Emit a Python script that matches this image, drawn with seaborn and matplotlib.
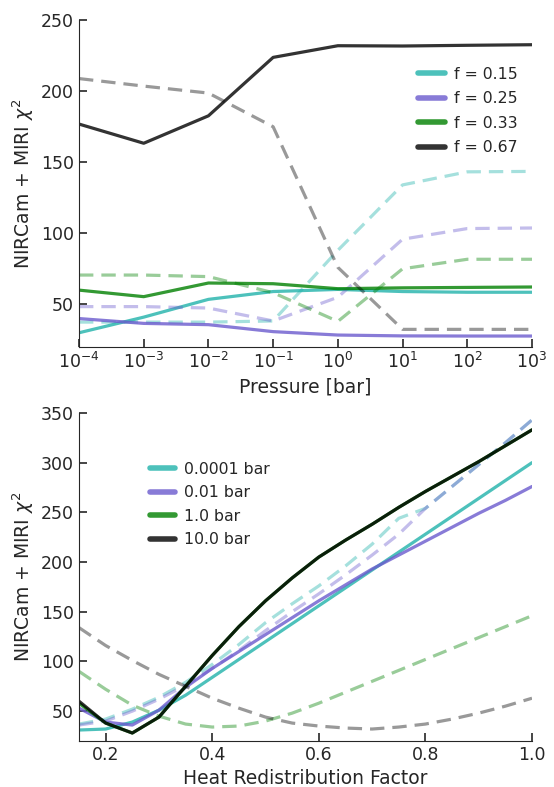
import numpy as np
import pandas as pd
import matplotlib
matplotlib.use("Agg")
import matplotlib.pyplot as plt
import seaborn as sns

# ---- top panel: chi2 vs pressure, one pair of lines per f ----
pressure = [1e-4, 1e-3, 1e-2, 1e-1, 1e0, 1e1, 1e2, 1e3]
f_labels = ["f = 0.15", "f = 0.25", "f = 0.33", "f = 0.67"]
top_solid = [
    [30, 41, 53.5, 59, 60.5, 59, 58.5, 58.5],
    [40, 36.6, 35.7, 30.8, 28.4, 27.8, 27.7, 27.7],
    [60, 55.4, 65, 64.5, 61, 61.6, 61.9, 62.2],
    [176.8, 163.3, 182.6, 223.7, 231.9, 231.7, 232.2, 232.6],
]
top_dashed = [
    [37.5, 37.5, 37.5, 38.3, 88, 134, 143.2, 143.5],
    [48.4, 48.4, 47.4, 38.3, 55, 95.8, 103.3, 103.7],
    [70.6, 70.6, 69.5, 58.2, 38, 75, 81.7, 81.7],
    [208.8, 203.5, 198.6, 174.9, 76, 32.4, 32.4, 32.4],
]

# ---- bottom panel: chi2 vs heat redistribution, one pair per pressure ----
heat = [0.15, 0.2, 0.25, 0.3, 0.35, 0.4, 0.45, 0.5, 0.55, 0.6,
        0.65, 0.7, 0.75, 0.8, 0.85, 0.9, 0.95, 1.0]
p_labels = ["0.0001 bar", "0.01 bar", "1.0 bar", "10.0 bar"]
bot_solid = [
    [31, 32, 39, 51, 66, 84, 102, 120, 138, 156, 174, 192, 210, 228, 246, 264, 282, 300],
    [53, 39, 36, 51, 74, 93, 110, 127, 144, 161, 177, 193, 207, 221, 235, 249, 262, 276],
    [58, 38, 28, 44, 75, 106, 135, 161, 184, 205, 222, 238, 255, 271, 286, 301, 317, 333],
    [60, 38, 28, 44, 75, 106, 135, 161, 184, 205, 222, 238, 255, 271, 286, 301, 317, 333],
]
bot_dashed = [
    [37, 42, 52, 64, 79, 97, 117, 139, 158, 176, 196, 218, 244, 254, 276, 298, 320, 343],
    [36, 40, 50, 62, 76, 93, 111, 131, 150, 168, 187, 207, 228, 254, 276, 298, 320, 343],
    [90, 72, 56, 45, 37, 34, 35, 40, 48, 58, 69, 80, 91, 102, 113, 124, 135, 146],
    [134, 116, 101, 87, 75, 63, 53, 44, 38, 35, 33, 32, 34, 37, 42, 48, 55, 63],
]

colors = ["lightseagreen", "slateblue", "green", "k"]

sns.set_style("ticks")
plt.rcParams["font.family"] = ["DejaVu Sans"]

fig = plt.figure(figsize=(5.54, 7.87), dpi=100)
ax1 = fig.add_axes([0.1426, 0.5591, 0.8177, 0.4155])
ax2 = fig.add_axes([0.1426, 0.0585, 0.8177, 0.4168])


def draw(ax, x, solids, dashes, labels):
    for sol, das, lab, c in zip(solids, dashes, labels, colors):
        sns.lineplot(x=x, y=sol, ax=ax, color=c, alpha=0.8, lw=2.3, label=lab)
        sns.lineplot(x=x, y=das, ax=ax, color=c, alpha=0.4, lw=2.3,
                     linestyle=(0, (4.5, 2.5)))


draw(ax1, pressure, top_solid, top_dashed, f_labels)
draw(ax2, heat, bot_solid, bot_dashed, p_labels)

ax1.set_xscale("log")
ax1.set_xlim(1e-4, 1e3)
ax1.set_ylim(20, 250)
ax1.set_xticks(pressure)
ax1.xaxis.set_minor_locator(matplotlib.ticker.NullLocator())
ax1.set_yticks([50, 100, 150, 200, 250])
ax1.set_xlabel("Pressure [bar]", fontsize=13.5)
ax1.set_ylabel(r"NIRCam + MIRI $\chi^2$", fontsize=13.5)

ax2.set_xlim(0.15, 1.0)
ax2.set_ylim(20, 350)
ax2.set_xticks([0.2, 0.4, 0.6, 0.8, 1.0])
ax2.set_yticks([50, 100, 150, 200, 250, 300, 350])
ax2.set_xlabel("Heat Redistribution Factor", fontsize=13.5)
ax2.set_ylabel(r"NIRCam + MIRI $\chi^2$", fontsize=13.5)

for ax in (ax1, ax2):
    sns.despine(ax=ax)
    ax.tick_params(direction="in", length=6, width=1.2, labelsize=12.5)

leg1 = ax1.legend(loc="upper right", bbox_to_anchor=(1.0, 0.9), frameon=False,
                  fontsize=11.3, handlelength=1.7, handletextpad=0.6,
                  labelspacing=0.6)
leg2 = ax2.legend(loc="upper left", bbox_to_anchor=(0.125, 0.895), frameon=False,
                  fontsize=11.3, handlelength=1.6, handletextpad=0.6,
                  labelspacing=0.55)
for leg in (leg1, leg2):
    for line in leg.get_lines():
        line.set_linewidth(4)

fig.savefig("out.png", dpi=100)
